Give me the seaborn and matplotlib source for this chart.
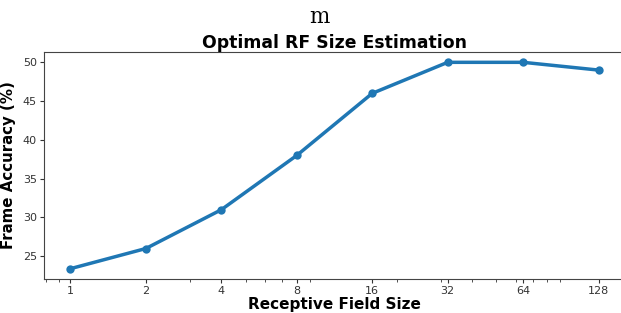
import numpy as np
import pandas as pd
import matplotlib
matplotlib.use("Agg")
import matplotlib.pyplot as plt
import seaborn as sns

rf_sizes = [1, 2, 4, 8, 16, 32, 64, 128]
accuracy = [23.4, 26.0, 31.0, 38.0, 46.0, 50.0, 50.0, 49.0]
tick_labels = ["1", "2", "4", "8", "16", "32", "64", "128"]

df = pd.DataFrame({"rf": rf_sizes, "acc": accuracy})

fig = plt.figure(figsize=(6.21, 3.13), dpi=100)
ax = fig.add_axes([44 / 621, 1 - 279 / 313, 581 / 621, 227 / 313])

sns.lineplot(data=df, x="rf", y="acc", marker="o", markersize=6,
             markeredgewidth=0, linewidth=2.5, color="#1f77b4", ax=ax)

# log10 scale, powers of two as major ticks (minor ticks stay at 3, 5, 6, 7, 9, 20 ...)
ax.set_xscale("log")
ax.set_xticks(rf_sizes, tick_labels)
ax.tick_params(axis="both", which="major", labelsize=8, colors="#333333", pad=2, length=3)
ax.tick_params(axis="x", which="minor", colors="#333333", length=2)
for s in ax.spines.values():
    s.set_color("#444444")

ax.set_xlabel("Receptive Field Size", fontsize=11, fontweight="bold", labelpad=1)
ax.set_ylabel("Frame Accuracy (%)", fontsize=10.8, fontweight="bold", labelpad=5)
ax.set_title("Optimal RF Size Estimation", fontsize=12.4, fontweight="bold", pad=3)
fig.text(0.515, 0.945, "m", fontsize=15.5, family="DejaVu Serif", ha="center", va="center")

fig.savefig("out.png", dpi=100)
